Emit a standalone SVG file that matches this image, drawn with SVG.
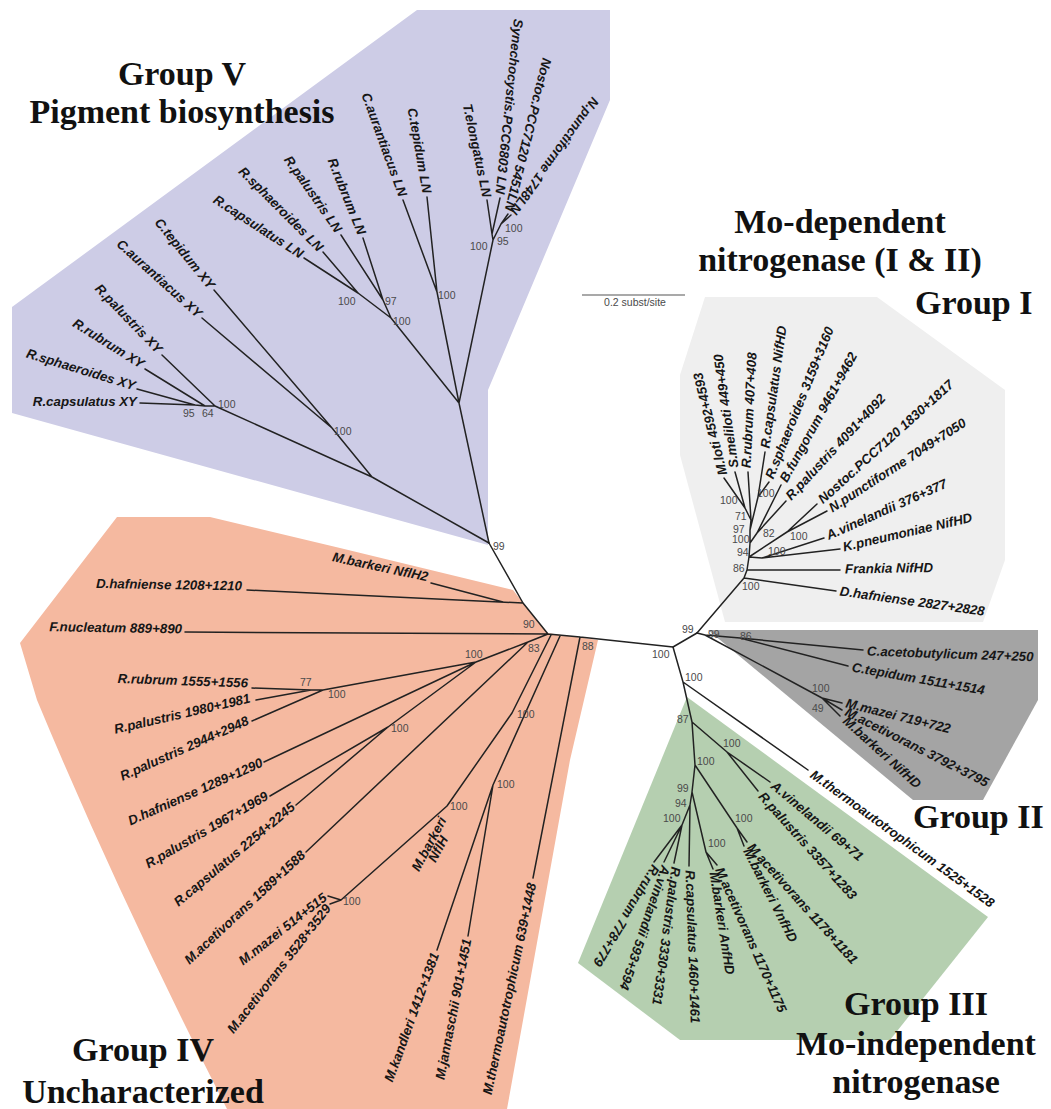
<svg xmlns="http://www.w3.org/2000/svg" width="1051" height="1109" viewBox="0 0 1051 1109">
<style>
.t{font-family:"Liberation Sans",Arial,sans-serif;font-weight:bold;font-style:italic;font-size:13.3px;fill:#161616;dominant-baseline:central}
.e{text-anchor:end}
.m{text-anchor:middle}
.b{font-family:"Liberation Sans",Arial,sans-serif;font-size:10.5px;fill:#4a4a4a}
.h{font-family:"Liberation Serif","Times New Roman",serif;font-weight:bold;font-size:34px;fill:#111;text-anchor:middle}
.hs{font-family:"Liberation Serif","Times New Roman",serif;font-weight:bold;font-size:34px;fill:#111}
.br{stroke:#222;stroke-width:1.5;fill:none;stroke-linecap:round;stroke-linejoin:round}
</style>
<rect width="1051" height="1109" fill="#fff"/>
<g id="region-group-V"><polygon points="12,307 417,10 610,10 610,100 488,390 488,545 12,413" fill="#cdcce6"/></g>
<g id="region-group-I"><polygon points="705,297 877,297 1005,390 1005,560 983,622 725,622 680,455 680,375" fill="#efefef"/></g>
<g id="region-group-II"><polygon points="708,630 1038,630 1038,700 983,800 913,800" fill="#a4a4a4"/></g>
<g id="region-group-III"><polygon points="687,697 988,917 890,1040 680,1040 578,963" fill="#b5cfb0"/></g>
<g id="region-group-IV"><path d="M117,517 L210,517 L340,548 L513,590 L547,633 L598,640 L570,760 L507,1109 L227,1109 Q118,895 37,700 L20,643 Z" fill="#f5b9a0"/></g>

<g id="connectors" class="br">
<path d="M140,403 L195,405 M137,389 L195,405 M195,405 L205,406 M145,369 L205,406 M205,406 L215,406 M162,355 L215,406 M215,406 L372,477 M202,318 L332,428 M214,290 L332,428 M332,428 L372,477 M372,477 L489,543"/>
<path d="M304,258 L358,293 M323,252 L358,293 M341,235 L383,300 M363,238 L383,300 M358,293 L391,318 M383,300 L391,318 M391,318 L459,403 M403,200 L437,292 M427,197 L437,292 M437,292 L459,403 M487,200 L492,234 M500,198 L492,234 M508,214 L501,224 M511,215 L501,224 M492,234 L493,240 M501,224 L493,240 M493,240 L459,403 M459,403 L489,543"/>
<path d="M489,543 L523,603 L548,634 L580,637 L673,647 M247,590 L523,603 M431,583 L503,602 M185,632 L548,634 M548,634 L528,642 M528,642 L306,852 M528,642 L476,662 M476,662 L323,690 L311,690 M311,690 L252,688 M311,690 L256,700 M323,690 L252,721 M476,662 L264,762 M476,662 L388,727 M388,727 L270,796 M388,727 L296,805 M551,635 L512,713 L447,806 L341,900 M341,900 L328,896 M341,900 L330,904 M560,636 L493,785 M493,785 L437,950 M493,785 L468,936 M580,637 L533,878"/>
<path d="M673,647 L697,633 M673,647 L683,682 M683,682 L808,770 M683,682 L692,722 L695,765 L692,792 L690,805 L682,825 M692,722 L727,752 L770,782 M727,752 L758,791 M695,765 L737,828 L747,842 M737,828 L744,846 M692,792 L706,852 L717,865 M706,852 L713,869 M690,805 L689,866 M682,825 L654,862 M682,825 L664,862 M682,825 L674,863"/>
<path d="M697,633 L705,635 L740,638 L863,650 M740,638 L848,666 M705,635 L822,698 M822,698 L842,703 M822,698 L842,710 M822,698 L840,716"/>
<path d="M697,633 L744,578 L747,570 L749,557 L750,543 L750,530 L751,520 L745,508 L724,478 M745,508 L735,472 M751,520 L748,472 M750,530 L758,497 L765,452 M758,497 L769,482 M750,543 L757,533 L781,485 M757,533 L786,501 M749,557 L787,532 L817,504 M787,532 L827,511 M749,557 L762,558 L824,538 M762,558 L840,549 M747,570 L840,570 M744,578 L836,591"/>
</g>

<g id="scale-bar">
<line x1="582" y1="295" x2="685" y2="295" stroke="#555" stroke-width="1.2"/>
<text class="b m" x="635" y="306">0.2 subst/site</text>
</g>

<g id="titles">
<text class="h" x="182" y="85">Group V</text>
<text class="h" x="182" y="123">Pigment biosynthesis</text>
<text class="h" x="840" y="233">Mo-dependent</text>
<text class="h" x="840" y="271">nitrogenase (I &amp; II)</text>
<text class="hs" x="915" y="314">Group I</text>
<text class="hs" x="913" y="828">Group II</text>
<text class="h" x="916" y="1015">Group III</text>
<text class="h" x="916" y="1055">Mo-independent</text>
<text class="h" x="916" y="1093">nitrogenase</text>
<text class="h" x="143" y="1061">Group IV</text>
<text class="h" x="143" y="1103">Uncharacterized</text>
</g>

<g id="leaves-group-V">
<text class="t e" transform="translate(137 401) rotate(0)">R.capsulatus XY</text>
<text class="t e" transform="translate(135 386) rotate(17)">R.sphaeroides XY</text>
<text class="t e" transform="translate(143 365) rotate(32)">R.rubrum XY</text>
<text class="t e" transform="translate(160 351) rotate(46)">R.palustris XY</text>
<text class="t e" transform="translate(200 315) rotate(42)">C.aurantiacus XY</text>
<text class="t e" transform="translate(212 287) rotate(51)">C.tepidum XY</text>
<text class="t e" transform="translate(302 255) rotate(33)">R.capsulatus LN</text>
<text class="t e" transform="translate(321 249) rotate(45)">R.sphaeroides LN</text>
<text class="t e" transform="translate(339 231) rotate(55)">R.palustris LN</text>
<text class="t e" transform="translate(362 234) rotate(68)">R.rubrum LN</text>
<text class="t e" transform="translate(403 196) rotate(70)">C.aurantiacus LN</text>
<text class="t e" transform="translate(427 193) rotate(80)">C.tepidum LN</text>
<text class="t e" transform="translate(487 197) rotate(78)">T.elongatus LN</text>
<text class="t e" transform="translate(500 194) rotate(96)">Synechocystis.PCC6803 LN</text>
<text class="t e" transform="translate(509 211) rotate(104)">Nostoc.PCC7120 5451LN</text>
<text class="t e" transform="translate(513 213) rotate(126)">N.punctiforme 1748LN</text>
</g>

<g id="leaves-group-IV">
<text class="t e" transform="translate(428 577) rotate(12)">M.barkeri NflH2</text>
<text class="t e" transform="translate(242 586) rotate(1)">D.hafniense 1208+1210</text>
<text class="t e" transform="translate(182 629) rotate(1)">F.nucleatum 889+890</text>
<text class="t e" transform="translate(248 683) rotate(2)">R.rubrum 1555+1556</text>
<text class="t e" transform="translate(250 698) rotate(-13)">R.palustris 1980+1981</text>
<text class="t e" transform="translate(248 720) rotate(-24)">R.palustris 2944+2948</text>
<text class="t e" transform="translate(262 762) rotate(-24)">D.hafniense 1289+1290</text>
<text class="t e" transform="translate(267 795) rotate(-30)">R.palustris 1967+1969</text>
<text class="t e" transform="translate(293 805) rotate(-40)">R.capsulatus 2254+2245</text>
<text class="t e" transform="translate(303 853) rotate(-43)">M.acetivorans 1589+1588</text>
<text class="t e" transform="translate(325 896) rotate(-38)">M.mazei 514+515</text>
<text class="t e" transform="translate(328 906) rotate(-52)">M.acetivorans 3528+3529</text>
<text class="t e" transform="translate(435 953) rotate(-70)">M.kandleri 1412+1381</text>
<text class="t e" transform="translate(467 939) rotate(-79)">M.jannaschii 901+1451</text>
<text class="t e" transform="translate(532 883) rotate(-78)">M.thermoautotrophicum 639+1448</text>
<text class="t m" transform="translate(429 844) rotate(-62)">M.barkeri</text>
<text class="t m" transform="translate(438 849) rotate(-62)">NflH</text>
</g>

<g id="leaves-group-I">
<text class="t" transform="translate(723 475) rotate(-104)">M.loti 4592+4593</text>
<text class="t" transform="translate(734 468) rotate(-98)">S.meliloti 449+450</text>
<text class="t" transform="translate(746 468) rotate(-87)">R.rubrum 407+408</text>
<text class="t" transform="translate(765 448) rotate(-82)">R.capsulatus NifHD</text>
<text class="t" transform="translate(769 478) rotate(-68)">R.sphaeroides 3159+3160</text>
<text class="t" transform="translate(783 481) rotate(-61)">B.fungorum 9461+9462</text>
<text class="t" transform="translate(788 498) rotate(-47)">R.palustris 4091+4092</text>
<text class="t" transform="translate(820 501) rotate(-42)">Nostoc.PCC7120 1830+1817</text>
<text class="t" transform="translate(830 509) rotate(-33)">N.punctiforme 7049+7050</text>
<text class="t" transform="translate(827 536) rotate(-24)">A.vinelandii 376+377</text>
<text class="t" transform="translate(843 547) rotate(-13)">K.pneumoniae NifHD</text>
<text class="t" transform="translate(845 569) rotate(-1)">Frankia NifHD</text>
<text class="t" transform="translate(840 591) rotate(8)">D.hafniense 2827+2828</text>
</g>

<g id="leaves-group-II">
<text class="t" transform="translate(867 651) rotate(2)">C.acetobutylicum 247+250</text>
<text class="t" transform="translate(852 667) rotate(10)">C.tepidum 1511+1514</text>
<text class="t" transform="translate(846 703) rotate(14)">M.mazei 719+722</text>
<text class="t" transform="translate(846 711) rotate(27)">M.acetivorans 3792+3795</text>
<text class="t" transform="translate(845 719) rotate(42)">M.barkeri NifHD</text>
<text class="t" transform="translate(812 773) rotate(36)">M.thermoautotrophicum 1525+1528</text>
</g>

<g id="leaves-group-III">
<text class="t" transform="translate(773 784) rotate(40)">A.vinelandii 69+71</text>
<text class="t" transform="translate(761 794) rotate(48)">R.palustris 3357+1283</text>
<text class="t" transform="translate(750 845) rotate(48)">M.acetivorans 1178+1181</text>
<text class="t" transform="translate(747 849) rotate(63)">M.barkeri VnfHD</text>
<text class="t" transform="translate(719 868) rotate(66)">M.acetivorans 1170+1175</text>
<text class="t" transform="translate(714 872) rotate(81)">M.barkeri AnfHD</text>
<text class="t" transform="translate(690 870) rotate(88)">R.capsulatus 1460+1461</text>
<text class="t" transform="translate(676 867) rotate(98)">R.palustris 3330+3331</text>
<text class="t" transform="translate(666 866) rotate(109)">A.vinelandii 593+594</text>
<text class="t" transform="translate(656 866) rotate(121)">R.rubrum 778+779</text>
</g>

<g id="bootstrap-values" class="b">
<text x="438" y="299">100</text>
<text x="338" y="305">100</text>
<text x="385" y="305">97</text>
<text x="393" y="325">100</text>
<text x="470" y="250">100</text>
<text x="497" y="245">95</text>
<text x="505" y="232">100</text>
<text x="334" y="435">100</text>
<text x="218" y="408">100</text>
<text x="183" y="417">95</text>
<text x="202" y="417">64</text>
<text x="493" y="550">99</text>
<text x="523" y="628">90</text>
<text x="528" y="652">83</text>
<text x="582" y="650">88</text>
<text x="465" y="658">100</text>
<text x="300" y="686">77</text>
<text x="328" y="698">100</text>
<text x="391" y="732">100</text>
<text x="517" y="718">100</text>
<text x="497" y="788">100</text>
<text x="450" y="810">100</text>
<text x="343" y="905">100</text>
<text x="682" y="633">99</text>
<text x="652" y="658">100</text>
<text x="685" y="681">100</text>
<text x="708" y="638">99</text>
<text x="740" y="640">86</text>
<text x="812" y="692">100</text>
<text x="812" y="712">49</text>
<text x="677" y="723">87</text>
<text x="723" y="747">100</text>
<text x="697" y="765">100</text>
<text x="677" y="792">99</text>
<text x="675" y="807">94</text>
<text x="663" y="822">100</text>
<text x="735" y="822">100</text>
<text x="708" y="847">100</text>
<text x="720" y="504">100</text>
<text x="735" y="520">71</text>
<text x="733" y="533">97</text>
<text x="732" y="543">100</text>
<text x="737" y="556">94</text>
<text x="733" y="572">86</text>
<text x="757" y="497">100</text>
<text x="763" y="537">82</text>
<text x="790" y="540">100</text>
<text x="768" y="555">100</text>
<text x="742" y="590">100</text>
</g>
</svg>
